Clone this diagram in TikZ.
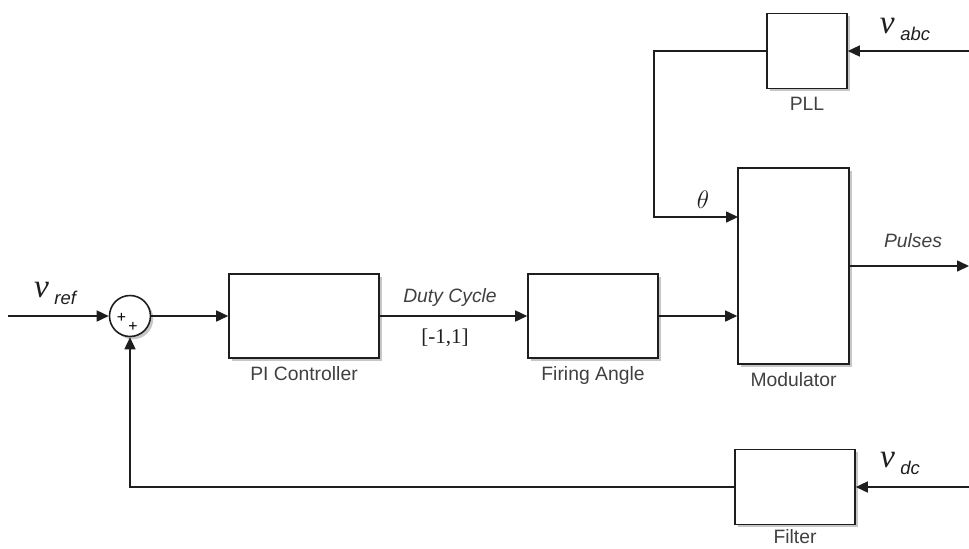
\documentclass[tikz,border=0pt]{standalone}
\usepackage{fontspec}
\setmainfont{Liberation Serif}
\setsansfont{Liberation Sans}
\usetikzlibrary{positioning,arrows.meta,shadows}
\definecolor{ink}{RGB}{30,30,30}
\definecolor{txt}{RGB}{64,64,64}
\newcommand{\sgv}[1]{{\itshape v}\,\raisebox{-0.45ex}{\sffamily\itshape\fontsize{10.5}{12}\selectfont #1}}
\tikzset{
  blk/.style={draw=ink, line width=0.9pt, fill=white, inner sep=0pt, drop shadow={shadow xshift=1.6pt, shadow yshift=-1.6pt, fill=black, opacity=0.22}},
  sumc/.style={blk, circle, minimum size=0.82cm},
  arrow/.style={-{Triangle[length=2.4mm, width=2.2mm]}, line width=0.9pt, draw=ink},
  lbl/.style={font=\sffamily\fontsize{11}{13}\selectfont, text=txt, inner sep=1pt},
  sig/.style={font=\sffamily\itshape\fontsize{11}{13}\selectfont, text=txt, inner sep=1pt},
  var/.style={font=\fontsize{19}{22}\selectfont, text=ink, inner sep=1pt},
  pls/.style={font=\sffamily\fontsize{9}{9}\selectfont, inner sep=0pt}
}

\begin{document}
\begin{tikzpicture}
        \useasboundingbox (0,0) rectangle (19.38,-10.96);
        % blocks
        \node[sumc] (sum) at (2.6,-6.32) {};
        \node[pls, xshift=-0.17cm, yshift=-0.03cm] (p1) at (sum) {+};
        \node[pls, xshift=0.06cm, yshift=-0.22cm] (p2) at (sum) {+};
        \node[blk, minimum width=3.0cm, minimum height=1.68cm] (pi) at (6.08,-6.32) {};
        \node[blk, minimum width=2.6cm, minimum height=1.68cm] (fa) at (11.86,-6.32) {};
        \node[blk, minimum width=2.22cm, minimum height=3.92cm] (mod) at (15.87,-5.32) {};
        \node[blk, minimum width=1.6cm, minimum height=1.5cm] (pll) at (16.14,-1.02) {};
        \node[blk, minimum width=2.4cm, minimum height=1.5cm] (flt) at (15.9,-9.74) {};
        % block names
        \node[lbl, below=0.12cm of pi] (pilbl) {PI Controller};
        \node[lbl, below=0.12cm of fa] (falbl) {Firing Angle};
        \node[lbl, below=0.12cm of mod] (modlbl) {Modulator};
        \node[lbl, below=0.12cm of pll] (plllbl) {PLL};
        \node[lbl, below=0.04cm of flt] (fltlbl) {Filter};
        % free ends
        \coordinate (vin) at (0.16,-6.32);
        \coordinate (abc) at (19.38,-1.02);
        \coordinate (dc) at (19.38,-9.74);
        \coordinate (pout) at (19.38,-5.32);
        \coordinate (bend) at (13.08,-1.02);
        \coordinate (tin) at (14.76,-4.34);
        % signals
        \draw[arrow] (vin) -- (sum);
        \draw[arrow] (sum) -- (pi);
        \draw[arrow] (pi) -- (fa);
        \draw[arrow] (fa) -- (fa -| mod.west);
        \draw[arrow] (mod) -- (pout);
        \draw[arrow] (abc) -- (pll);
        \draw[arrow] (pll) -- (bend) |- (tin);
        \draw[arrow] (dc) -- (flt);
        \draw[arrow] (flt) -| (sum);
        % signal names
        \node[var] (vref) at (1.1,-5.86) {\sgv{ref}};
        \node[sig] (duty) at (9.0,-5.94) {Duty Cycle};
        \node[font=\fontsize{12}{14}\selectfont, text=ink] (rng) at (8.9,-6.76) {[-1,1]};
        \node[var, font=\fontsize{15}{18}\selectfont] (th) at (14.06,-4.0) {$\theta$};
        \node[sig] (pul) at (18.26,-4.82) {Pulses};
        \node[var] (vabc) at (18.1,-0.58) {\sgv{abc}};
        \node[var] (vdc) at (18.0,-9.26) {\sgv{dc}};
      \end{tikzpicture}
\end{document}
